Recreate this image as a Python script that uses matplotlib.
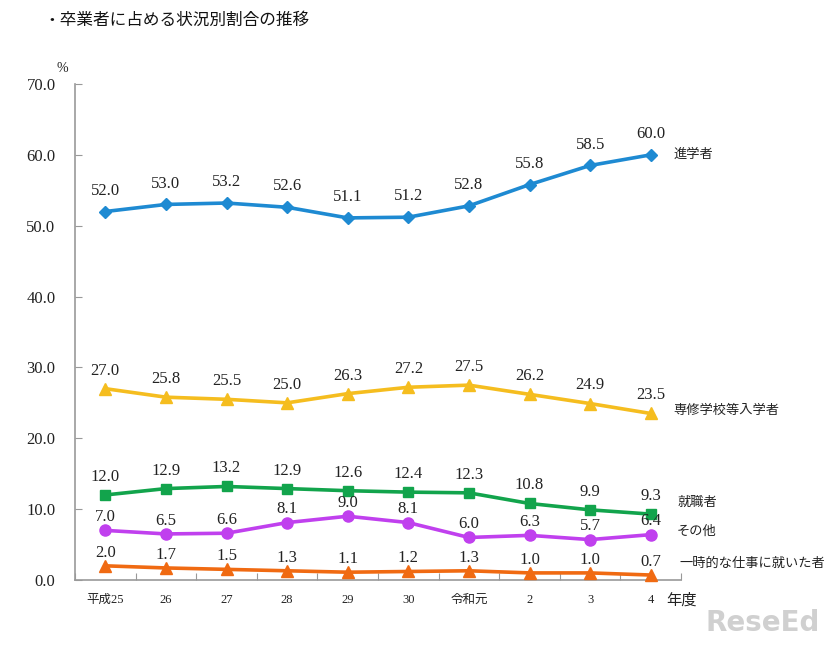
import matplotlib
matplotlib.use("Agg")
import matplotlib.pyplot as plt

plt.rcParams['font.family'] = ['Noto Sans CJK JP', 'DejaVu Sans']

years = ["平成25", "26", "27", "28", "29", "30", "令和元", "2", "3", "4"]
series_names = ["進学者", "専修学校等入学者", "就職者", "その他", "一時的な仕事に就いた者"]
shingaku = [52.0, 53.0, 53.2, 52.6, 51.1, 51.2, 52.8, 55.8, 58.5, 60.0]
senshu = [27.0, 25.8, 25.5, 25.0, 26.3, 27.2, 27.5, 26.2, 24.9, 23.5]
shushoku = [12.0, 12.9, 13.2, 12.9, 12.6, 12.4, 12.3, 10.8, 9.9, 9.3]
sonota = [7.0, 6.5, 6.6, 8.1, 9.0, 8.1, 6.0, 6.3, 5.7, 6.4]
ichiji = [2.0, 1.7, 1.5, 1.3, 1.1, 1.2, 1.3, 1.0, 1.0, 0.7]
y_ticks = [0, 10, 20, 30, 40, 50, 60, 70]

all_series = [shingaku, senshu, shushoku, sonota, ichiji]
colors = ["#1E8AD2", "#F5BD1F", "#12A44C", "#C040EE", "#F06A12"]
markers = ["D", "^", "s", "o", "^"]
msizes = [6, 8, 7, 8, 8]
label_offsets = [15, 13, 13, 9.5, 9.5]
name_y = [60.0, 23.9, 11.0, 6.8, 2.3]
name_x = [9.37, 9.37, 9.45, 9.42, 9.48]

fig = plt.figure(figsize=(8.26, 6.5), dpi=100)
ax = fig.add_axes([0.0908, 0.1077, 0.7337, 0.7631])

x = list(range(len(years)))
num_font = dict(family=['Liberation Serif', 'DejaVu Serif'], fontsize=12, color="#222222")
for vals, c, m, ms, off, nm, ny, nx in zip(all_series, colors, markers, msizes, label_offsets,
                                           series_names, name_y, name_x):
    ax.plot(x, vals, color=c, lw=2.6, marker=m, ms=ms, markeredgecolor=c, zorder=3, clip_on=False)
    for xi, v in zip(x, vals):
        ax.annotate(f"{v:.1f}", (xi, v), xytext=(0, off), textcoords="offset points",
                    ha="center", va="center", **num_font)
    ax.text(nx, ny, nm, ha="left", va="center", fontsize=9.5, color="#222222", clip_on=False)

ax.set_xlim(-0.5, 9.5)
ax.set_ylim(0, 70)
ax.set_yticks(y_ticks)
ax.set_yticklabels([f"{t:.1f}" for t in y_ticks], **num_font)
ax.set_xticks([i + 0.5 for i in range(-1, 10)], minor=False)
ax.set_xticklabels([])
ax.set_xticks(x, minor=True)
ax.set_xticklabels(years, minor=True, fontsize=9, color="#222222",
                   family=['Liberation Serif', 'Noto Sans CJK JP'])
ax.tick_params(axis="x", which="major", direction="in", length=5, color="#999999")
ax.tick_params(axis="x", which="minor", length=0, pad=10)
ax.tick_params(axis="y", direction="in", length=5, color="#999999", pad=14)
for s in ["top", "right"]:
    ax.spines[s].set_visible(False)
for s in ["left", "bottom"]:
    ax.spines[s].set_color("#999999")
    ax.spines[s].set_linewidth(1.2)

fig.text(0.052, 0.968, "・卒業者に占める状況別割合の推移", fontsize=12, ha="left", va="center", color="#111111")
fig.text(0.075, 0.895, "%", fontsize=10, ha="center", va="center", color="#222222",
         family=['Liberation Serif', 'DejaVu Serif'])
fig.text(0.807, 0.077, "年度", fontsize=11, ha="left", va="center", color="#222222")
fig.text(0.993, 0.02, "ReseEd", fontsize=20, fontweight="bold", ha="right", va="bottom",
         color="#d0d0d0", family=['DejaVu Sans'])

fig.savefig("out.png", dpi=100)
